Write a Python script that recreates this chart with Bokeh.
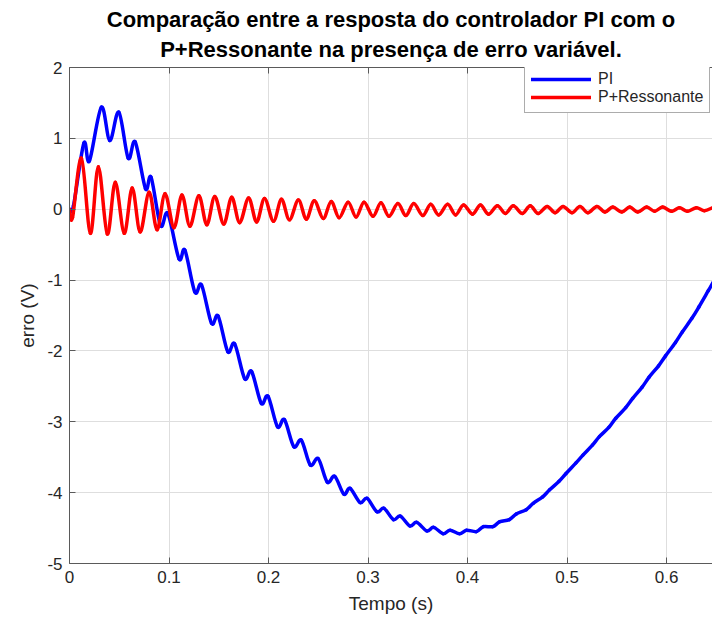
import numpy as np
from bokeh.plotting import figure
from bokeh.models import (Range1d, FixedTicker, LinearAxis, Title, Legend,
                          LegendItem, ColumnDataSource)
from bokeh.embed import file_html
from bokeh.resources import INLINE

# ---------------- data ----------------
title_lines = ["Comparação entre a resposta do controlador PI com o",
               "P+Ressonante na presença de erro variável."]
x_label = "Tempo (s)"
y_label = "erro (V)"
series_names = ["PI", "P+Ressonante"]

x_ticks = [0, 0.1, 0.2, 0.3, 0.4, 0.5, 0.6]
x_tick_labels = ["0", "0.1", "0.2", "0.3", "0.4", "0.5", "0.6"]
y_ticks = [-5, -4, -3, -2, -1, 0, 1, 2]
y_tick_labels = ["-5", "-4", "-3", "-2", "-1", "0", "1", "2"]

# PI response: successive local extremes of the 60 Hz ripple
pi_t = [0.000, 0.004, 0.0144, 0.0200, 0.0320, 0.0405, 0.0496, 0.0590, 0.0660,
        0.0764, 0.0820, 0.0915, 0.0988, 0.1100, 0.1160, 0.1260, 0.1327, 0.1427,
        0.1494, 0.1590, 0.1660, 0.1760, 0.1830, 0.1927, 0.1995, 0.2090, 0.2160,
        0.2254, 0.2330, 0.2420, 0.2500, 0.2590, 0.2666, 0.2757, 0.2820, 0.2920,
        0.2990, 0.3090, 0.3160, 0.3255, 0.3325, 0.3420, 0.3490, 0.3590, 0.3660,
        0.3755, 0.3825, 0.3920, 0.3990, 0.4090, 0.4160, 0.4255, 0.4325, 0.4420,
        0.4490, 0.4590, 0.4660, 0.4755, 0.4825, 0.4920, 0.4990, 0.5090, 0.5160,
        0.5255, 0.5325, 0.5420, 0.5490, 0.5590, 0.5660, 0.5755, 0.5825, 0.5920,
        0.5990, 0.6090, 0.6160, 0.6255, 0.6325, 0.6420, 0.6490]
pi_v = [0.00, 0.05, 0.93, 0.68, 1.44, 0.97, 1.37, 0.72, 0.95,
        0.29, 0.45, -0.23, -0.06, -0.70, -0.58, -1.17, -1.07, -1.61,
        -1.51, -2.01, -1.90, -2.39, -2.29, -2.74, -2.64, -3.07, -2.97,
        -3.35, -3.26, -3.61, -3.52, -3.85, -3.77, -4.02, -3.94, -4.14,
        -4.08, -4.27, -4.22, -4.38, -4.33, -4.47, -4.42, -4.54, -4.49,
        -4.58, -4.53, -4.58, -4.53, -4.55, -4.48, -4.48, -4.41, -4.38,
        -4.30, -4.24, -4.15, -4.06, -3.96, -3.84, -3.73, -3.58, -3.47,
        -3.33, -3.21, -3.08, -2.95, -2.80, -2.67, -2.51, -2.37, -2.21,
        -2.07, -1.88, -1.73, -1.54, -1.38, -1.15, -0.98]

# P+Ressonante response: successive peaks and troughs
pr_t = [0.000, 0.003, 0.012, 0.021, 0.029, 0.038, 0.046, 0.055, 0.063, 0.071,
        0.080, 0.088, 0.096, 0.105, 0.113, 0.121, 0.130, 0.138, 0.146, 0.155,
        0.163, 0.171, 0.180, 0.188, 0.196, 0.205, 0.213, 0.221, 0.230, 0.238,
        0.246, 0.255, 0.263, 0.271, 0.280, 0.288, 0.296, 0.305, 0.313, 0.321,
        0.330, 0.338, 0.346, 0.355, 0.363, 0.371, 0.380, 0.388, 0.396, 0.405,
        0.413, 0.421, 0.430, 0.438, 0.446, 0.455, 0.463, 0.471, 0.480, 0.488,
        0.496, 0.505, 0.513, 0.521, 0.530, 0.538, 0.546, 0.555, 0.563, 0.571,
        0.580, 0.588, 0.596, 0.605, 0.613, 0.621, 0.630, 0.638, 0.646]
pr_v = [0.00, -0.12, 0.72, -0.34, 0.60, -0.35, 0.38, -0.34, 0.30, -0.32,
        0.24, -0.29, 0.22, -0.26, 0.20, -0.24, 0.19, -0.22, 0.18, -0.21,
        0.17, -0.19, 0.16, -0.18, 0.15, -0.17, 0.14, -0.15, 0.13, -0.14,
        0.12, -0.13, 0.11, -0.12, 0.10, -0.11, 0.10, -0.10, 0.09, -0.10,
        0.08, -0.09, 0.08, -0.09, 0.07, -0.08, 0.07, -0.08, 0.06, -0.07,
        0.06, -0.07, 0.05, -0.06, 0.05, -0.06, 0.05, -0.06, 0.04, -0.05,
        0.04, -0.05, 0.04, -0.05, 0.04, -0.04, 0.03, -0.04, 0.03, -0.04,
        0.03, -0.03, 0.03, -0.03, 0.02, -0.03, 0.02, -0.02, 0.02]

# ---------------- styling ----------------
FONT = "Liberation Sans"
TXT = "#262626"
AX = "#5a5a5a"
GRID = "#dedede"
BLUE = "#0000ff"
RED = "#ff0000"
LW = 3.5

p = figure(width=712, height=627, title=None,
           x_range=Range1d(0, 0.6462), y_range=Range1d(-5, 2),
           output_backend="svg", toolbar_location=None,
           min_border_left=69, min_border_right=0,
           min_border_top=67, min_border_bottom=64,
           background_fill_color="white", border_fill_color="white")
p.outline_line_color = None


def smooth_source(t, v):
    """Cubic Bezier segments through the read points (Catmull-Rom tangents),
    so the curve is drawn smoothly by the library between them."""
    t = np.asarray(t, float)
    v = np.asarray(v, float)
    n = len(t)
    tp = np.concatenate([[t[0]], t, [t[-1]]])
    vp = np.concatenate([[v[0]], v, [v[-1]]])
    return ColumnDataSource(dict(
        x0=tp[1:n], y0=vp[1:n], x1=tp[2:n + 1], y1=vp[2:n + 1],
        cx0=tp[1:n] + (tp[2:n + 1] - tp[0:n - 1]) / 6.0,
        cy0=vp[1:n] + (vp[2:n + 1] - vp[0:n - 1]) / 6.0,
        cx1=tp[2:n + 1] - (tp[3:n + 2] - tp[1:n]) / 6.0,
        cy1=vp[2:n + 1] - (vp[3:n + 2] - vp[1:n]) / 6.0,
    ))


r_pi = p.bezier(x0="x0", y0="y0", x1="x1", y1="y1", cx0="cx0", cy0="cy0",
                cx1="cx1", cy1="cy1", source=smooth_source(pi_t, pi_v),
                line_color=BLUE, line_width=LW, line_cap="round")
r_pr = p.bezier(x0="x0", y0="y0", x1="x1", y1="y1", cx0="cx0", cy0="cy0",
                cx1="cx1", cy1="cy1", source=smooth_source(pr_t, pr_v),
                line_color=RED, line_width=LW, line_cap="round")

# grid
p.xgrid.ticker = FixedTicker(ticks=x_ticks)
p.ygrid.ticker = FixedTicker(ticks=y_ticks)
for g in (p.xgrid, p.ygrid):
    g.grid_line_color = GRID
    g.grid_line_width = 1


def style_axis(ax, ticks, labels, font_size="17px"):
    ax.ticker = FixedTicker(ticks=ticks)
    ax.major_label_overrides = {t: l for t, l in zip(ticks, labels)}
    ax.axis_line_color = AX
    ax.axis_line_width = 1
    ax.major_tick_line_color = AX
    ax.major_tick_in = 6
    ax.major_tick_out = 0
    ax.minor_tick_line_color = None
    ax.major_label_text_font = FONT
    ax.major_label_text_font_size = font_size
    ax.major_label_text_color = TXT
    ax.axis_label_text_font = FONT
    ax.axis_label_text_font_size = "19px"
    ax.axis_label_text_font_style = "normal"
    ax.axis_label_text_color = TXT


style_axis(p.xaxis[0], x_ticks, x_tick_labels)
style_axis(p.yaxis[0], y_ticks, y_tick_labels)
p.xaxis[0].axis_label = x_label
p.yaxis[0].axis_label = y_label
p.xaxis[0].major_label_standoff = 7
p.xaxis[0].axis_label_standoff = 7
p.yaxis[0].major_label_standoff = 7
p.yaxis[0].axis_label_standoff = 6

# top frame edge with inward ticks, no labels
top = LinearAxis()
style_axis(top, x_ticks, ["" for _ in x_ticks], font_size="1px")
top.major_label_standoff = 0
p.add_layout(top, "above")

# title: two centred lines (second line added first -> nearer the plot)
for i, line in enumerate(reversed(title_lines)):
    p.add_layout(Title(text=line, align="center", text_font=FONT,
                       text_font_size="22px", text_font_style="bold",
                       text_color="black", standoff=11 if i == 0 else -4),
                 "above")

legend = Legend(items=[LegendItem(label=series_names[0], renderers=[r_pi]),
                       LegendItem(label=series_names[1], renderers=[r_pr])],
                location=(455, 450))
legend.border_line_color = AX
legend.border_line_width = 1
legend.background_fill_color = "white"
legend.background_fill_alpha = 1
legend.padding = 6
legend.margin = 0
legend.spacing = -3
legend.glyph_width = 60
legend.glyph_height = 16
legend.label_height = 16
legend.label_standoff = 7
legend.label_text_font = FONT
legend.label_text_font_size = "16px"
legend.label_text_color = TXT
p.add_layout(legend)

open("out.html", "w").write(file_html(p, INLINE))
